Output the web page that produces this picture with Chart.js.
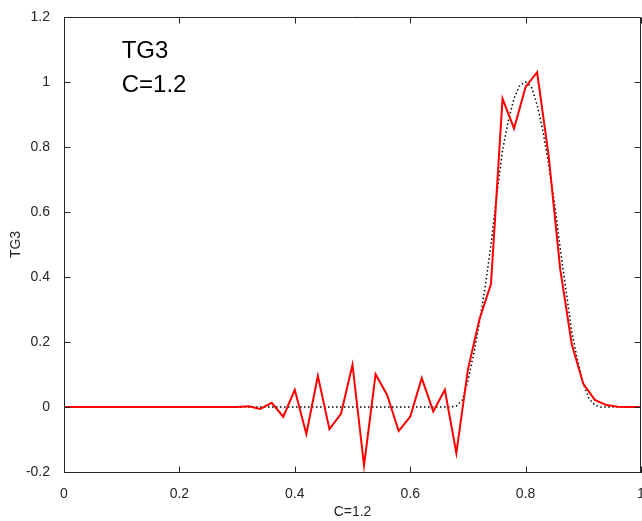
<!DOCTYPE html>
<html lang="en">
  <head>
    <meta charset="utf-8" />
    <title>TG3 C=1.2</title>
    <script src="https://cdn.jsdelivr.net/npm/chart.js@4.4.1/dist/chart.umd.min.js"></script>
    <style>
      html,
      body {
        margin: 0;
        padding: 0;
        background: #ffffff;
        overflow: hidden;
      }
      #chartDiv {
        width: 642px;
        height: 521px;
      }
    </style>
  </head>
  <body>
    <div id="chartDiv">
      <canvas id="tg3-chart" width="642" height="521"></canvas>
    </div>

    <script>
      // numeric solution (red), sampled every 0.02
      const cValues = [
        0, 0.02, 0.04, 0.06, 0.08, 0.1, 0.12, 0.14, 0.16, 0.18,
        0.2, 0.22, 0.24, 0.26, 0.28, 0.3, 0.32, 0.34, 0.36, 0.38,
        0.4, 0.42, 0.44, 0.46, 0.48, 0.5, 0.52, 0.54, 0.56, 0.58,
        0.6, 0.62, 0.64, 0.66, 0.68, 0.7, 0.72, 0.74, 0.76, 0.78,
        0.8, 0.82, 0.84, 0.86, 0.88, 0.9, 0.92, 0.94, 0.96, 0.98, 1
      ];
      const tg3Values = [
        0, 0, 0, 0, 0, 0, 0, 0, 0, 0,
        0, 0, 0, 0, 0, 0, 0.002, -0.006, 0.013, -0.03,
        0.053, -0.083, 0.096, -0.068, -0.021, 0.13, -0.18, 0.101, 0.037, -0.074,
        -0.03, 0.089, -0.014, 0.053, -0.142, 0.115, 0.27, 0.378, 0.949, 0.857,
        0.985, 1.03, 0.772, 0.424, 0.193, 0.071, 0.022, 0.006, 0.001, 0, 0
      ];

      // exact profile (black dotted)
      const exactC = [
        0, 0.67, 0.68, 0.69, 0.7, 0.71, 0.72, 0.73, 0.74, 0.75, 0.76,
        0.77, 0.78, 0.79, 0.8, 0.81, 0.82, 0.83, 0.84, 0.85, 0.86,
        0.87, 0.88, 0.89, 0.9, 0.91, 0.92, 0.93, 1
      ];
      const exactTG3 = [
        0, 0, 0.003, 0.02, 0.08, 0.163, 0.26, 0.37, 0.5, 0.65, 0.79,
        0.88, 0.95, 0.99, 1, 0.985, 0.93, 0.849, 0.746, 0.627, 0.488,
        0.359, 0.232, 0.143, 0.071, 0.025, 0.006, 0, 0
      ];

      const xTicks = [0, 0.2, 0.4, 0.6, 0.8, 1];
      const yTicks = [-0.2, 0, 0.2, 0.4, 0.6, 0.8, 1, 1.2];

      const axisColor = "#262626";
      const fontFamily = "'Liberation Sans', Arial, Helvetica, sans-serif";

      const toPoints = (xs, ys) => xs.map((x, i) => ({ x: x, y: ys[i] }));

      // top/right box lines + inward tick marks + the two text notes
      const matlabAxes = {
        id: "matlabAxes",
        afterDraw(chart) {
          const ctx = chart.ctx;
          const area = chart.chartArea;
          const xs = chart.scales.x;
          const ys = chart.scales.y;
          const tickLen = 6;
          const left = Math.round(area.left) + 0.5;
          const right = Math.round(area.right) - 0.5;
          const top = Math.round(area.top) + 0.5;
          const bottom = Math.round(area.bottom) + 0.5;
          ctx.save();
          ctx.strokeStyle = axisColor;
          ctx.lineWidth = 1;
          ctx.setLineDash([]);
          ctx.beginPath();
          ctx.moveTo(left, top);
          ctx.lineTo(right, top);
          ctx.lineTo(right, bottom);
          ctx.lineTo(left, bottom);
          ctx.closePath();
          xTicks.forEach((v) => {
            const px = Math.round(xs.getPixelForValue(v)) + 0.5;
            ctx.moveTo(px, bottom);
            ctx.lineTo(px, bottom - tickLen);
            ctx.moveTo(px, top);
            ctx.lineTo(px, top + tickLen);
          });
          yTicks.forEach((v) => {
            const py = Math.round(ys.getPixelForValue(v)) + 0.5;
            ctx.moveTo(left, py);
            ctx.lineTo(left + tickLen, py);
            ctx.moveTo(right, py);
            ctx.lineTo(right - tickLen, py);
          });
          ctx.stroke();

          ctx.fillStyle = "#000000";
          ctx.font = "24px " + fontFamily;
          ctx.textAlign = "left";
          ctx.textBaseline = "middle";
          ctx.fillText("TG3", xs.getPixelForValue(0.1), ys.getPixelForValue(1.095));
          ctx.fillText("C=1.2", xs.getPixelForValue(0.1), ys.getPixelForValue(0.99));
          ctx.restore();
        }
      };

      const tg3Chart = new Chart(document.getElementById("tg3-chart").getContext("2d"), {
        type: "scatter",
        data: {
          datasets: [
            {
              label: "exact",
              data: toPoints(exactC, exactTG3),
              showLine: true,
              borderColor: "#000000",
              borderWidth: 1.5,
              borderDash: [1.5, 2.5],
              pointRadius: 0,
              order: 2
            },
            {
              label: "TG3",
              data: toPoints(cValues, tg3Values),
              showLine: true,
              borderColor: "#ff0000",
              borderWidth: 2,
              pointRadius: 0,
              order: 1
            }
          ]
        },
        options: {
          responsive: false,
          animation: false,
          layout: {
            padding: { left: 0, right: 1, top: 17, bottom: 0 }
          },
          scales: {
            x: {
              type: "linear",
              min: 0,
              max: 1,
              afterFit: (scale) => {
                scale.height = 49;
                scale.paddingLeft = 0;
                scale.paddingRight = 0;
              },
              afterBuildTicks: (scale) => { scale.ticks = xTicks.map((v) => ({ value: v })); },
              grid: { display: false },
              border: { display: true, color: axisColor, width: 1 },
              ticks: {
                color: axisColor,
                padding: 6,
                maxRotation: 0,
                autoSkip: false,
                callback: (v) => String(v),
                font: { family: fontFamily, size: 14 }
              },
              title: {
                display: true,
                text: "C=1.2",
                color: axisColor,
                padding: { top: 0, bottom: 0 },
                font: { family: fontFamily, size: 14 }
              }
            },
            y: {
              type: "linear",
              min: -0.2,
              max: 1.2,
              afterFit: (scale) => {
                scale.width = 64;
                scale.paddingTop = 0;
                scale.paddingBottom = 0;
              },
              afterBuildTicks: (scale) => { scale.ticks = yTicks.map((v) => ({ value: v })); },
              grid: { display: false },
              border: { display: true, color: axisColor, width: 1 },
              ticks: {
                color: axisColor,
                padding: 6,
                autoSkip: false,
                callback: (v) => String(v),
                font: { family: fontFamily, size: 14 }
              },
              title: {
                display: true,
                text: "TG3",
                color: axisColor,
                padding: { top: 8, bottom: 0 },
                font: { family: fontFamily, size: 14 }
              }
            }
          },
          plugins: {
            legend: { display: false },
            tooltip: { enabled: false }
          }
        },
        plugins: [matlabAxes]
      });
    </script>
  </body>
</html>
